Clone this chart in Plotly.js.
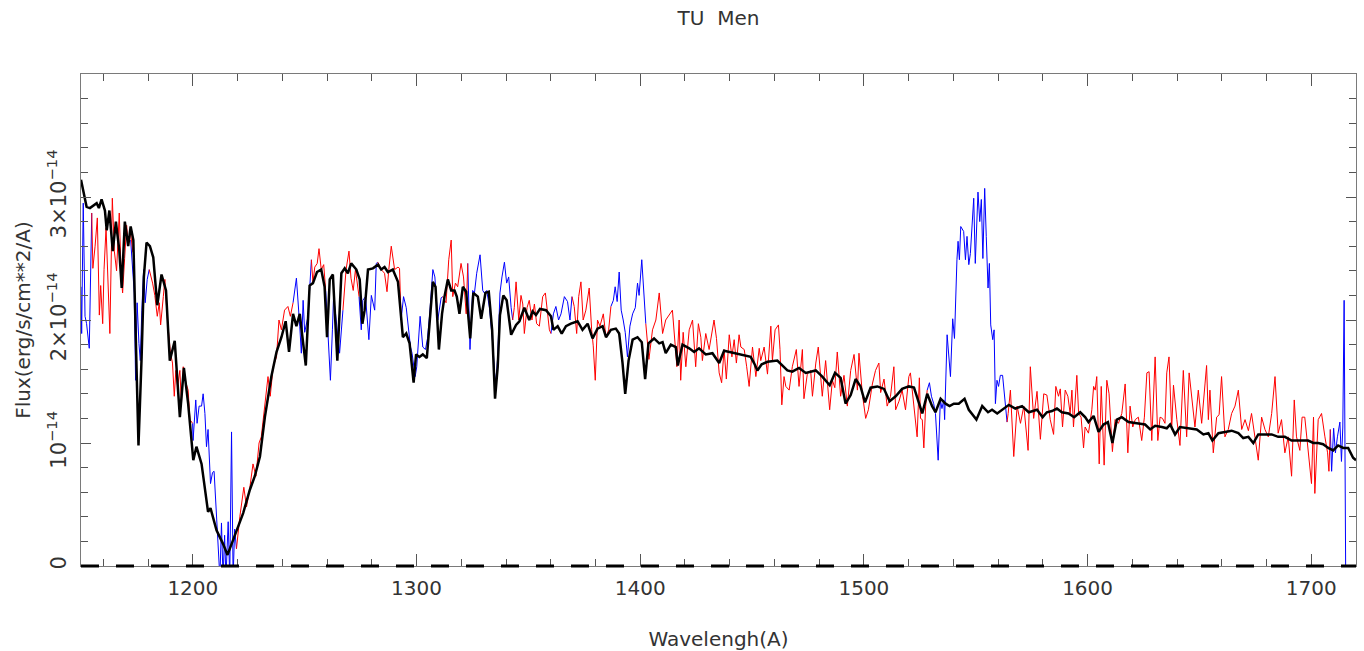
<!DOCTYPE html>
<html>
<head>
<meta charset="utf-8">
<script src="https://cdn.plot.ly/plotly-3.0.1.min.js"></script>
<style>html,body{margin:0;padding:0;background:#fff;}#chart{width:1364px;height:651px;}</style>
</head>
<body>
<div id="chart"></div>
<script>
// Flux values are in units of 1e-14 erg/s/cm^2/A
const chartTitle = 'TU Men';
const xTitle = 'Wavelengh(A)';
const yTitle = 'Flux(erg/s/cm**2/A)';
const xTickVals = [1200, 1300, 1400, 1500, 1600, 1700];
const xTickText = ['1200', '1300', '1400', '1500', '1600', '1700'];
const yTickVals = [0, 1, 2, 3];
const yTickText = ['0', '10<sup>\u221214</sup>', '2\u00d710<sup>\u221214</sup>', '3\u00d710<sup>\u221214</sup>'];

// Red spectrum (segments separated by null)
const redWave = [
 1154.8,1155.3,1156.3,1157.3,1158.2,1158.8,1159.7,1160.3,1161.2,1162.0,1162.9,1164.0,1164.9,1165.9,1167.1,1168.0,1168.6,1169.5,1170.4,1171.1,1172.2,1173.2, null,
 1180.5,1182.0,1183.0,1184.1,1185.0,1185.6,1186.8,1187.5,1188.5,1189.4,1190.0,1190.9,1191.7,1192.4,1193.2,1194.2,1194.9,1195.7,1196.9,1197.9,1198.7,1199.9, null,
 1219.5,1221.0,1222.8,1224.0,1225.5,1226.9,1228.2,1229.6,1230.6,1232.1,1233.6,1234.6,1235.9,1237.4,1238.5,1239.6,1241.0,1242.5,1243.6,1244.8, null,
 1253.0,1253.7,1254.5,1255.6,1256.4,1257.4,1258.5,1259.4, null,
 1267.1,1267.8,1268.5,1269.8,1270.7,1271.7,1272.7,1274.3, null,
 1282.7,1284.2,1285.7,1286.8,1287.6,1288.7,1290.2,1291.7,1292.4,1293.1, null,
 1311.7,1313.2,1314.4,1315.5,1316.2,1317.4,1318.4,1319.9,1321.0,1322.2,1322.9, null,
 1343.0,1343.7,1344.5,1345.7,1346.7,1347.5,1348.2,1349.4,1350.4,1351.6,1352.7,1353.7,1354.9,1356.4,1357.6,1358.6,1359.4,1360.1, null,
 1369.5,1370.5,1371.6,1372.5,1373.5,1374.5,1375.7,1377.2,1378.3,1379.0,1379.9,1380.9,1382.0,1383.5,1384.7,1385.9,1386.9, null,
 1402.5,1403.9,1405.5,1407.0,1408.5,1410.0,1411.4,1413.2,1414.4,1416.4,1417.4,1418.1,1419.2,1420.4,1421.9,1423.4,1424.1,1424.8,1426.0,1427.1,1427.8,1429.3,1430.8,1433.0,1434.1,1435.3,1436.4,1437.5,1438.5,1439.8,
 1441.0,1442.0,1443.0,1444.2,1445.0,1446.5,1447.6,1448.7,1450.2,1451.7,1453.2,1453.9,1455.4,1456.9,1458.4,1459.1,1460.3,1461.8,1462.5,1463.3,1464.3,1465.1,1466.6,1468.0,1469.8,1471.0,1472.5,1473.2,1474.7,1476.2,
 1477.0,1478.5,1479.6,1480.7,1481.4,1482.9,1484.7,1485.9,1487.0,1488.1,1489.6,1491.1,1492.6,1494.1,1495.6,1497.1,1497.8,1499.3,1500.8,1502.0,1503.8,1505.2,1506.7,1507.5,1509.0,1510.4,1511.9,1513.4,1514.2,1515.7,
 1517.1,1518.6,1520.1,1520.8,1521.3,1522.4,1523.8,1524.8,1525.3,1526.1,1526.8,1527.6,1528.3, null,
 1564.0,1564.5,1565.5,1567.0,1568.5,1570.0,1571.5,1573.4,1574.4,1575.9,1577.4,1578.9,1580.4,1581.8,1583.3,1584.8,1585.8,1587.0,1587.8,1588.8,1590.0,1591.2,1592.2,1593.0,1593.7,1595.2,1596.0,1597.1,1598.2,1598.9,
 1600.4,1601.9,1602.7,1603.4,1604.1,1605.2,1606.1,1606.7,1607.4,1608.6,1609.6,1611.1,1612.3,1613.8,1615.3,1616.8,1618.0,1619.0,1620.2,1621.3,1622.7,1624.2,1625.4,1626.5,1627.5,1628.7,1630.2,1631.4,1632.4,1633.5,
 1634.6,1635.4,1636.4,1637.6,1638.4,1639.9,1641.3,1642.8,1644.3,1645.4,1646.6,1648.0,1649.5,1651.0,1652.5,1653.2,1654.0,1654.7,1656.2,1657.7,1658.8,1659.9,1661.4,1662.9,1664.4,1665.9,1667.4,1668.9,1670.4,1671.9,
 1673.3,1674.8,1676.3,1677.8,1679.3,1680.8,1682.3,1683.8,1685.2,1686.7,1688.2,1689.7,1691.2,1692.4,1693.4,1694.9,1695.9,1697.1,1698.6,1700.1,1701.0,1701.6,1703.1,1704.6,1706.1,1707.3,1707.9,1708.5
];
const redFlux = [
 2.87,2.42,2.60,2.83,2.04,2.28,1.97,2.41,2.75,2.30,1.89,2.99,2.56,2.40,2.87,2.35,2.22,2.50,2.77,2.63,2.70,2.55, null,
 2.41,2.30,2.20,2.03,2.14,1.96,2.19,2.33,2.03,1.81,1.73,1.65,1.38,1.59,1.46,1.59,1.32,1.62,1.49,1.43,1.19,1.16, null,
 0.14,0.40,0.64,0.48,0.64,0.83,0.73,1.00,1.05,1.32,1.54,1.38,1.62,1.70,2.00,1.92,2.08,2.11,2.03,2.14, null,
 2.49,2.30,2.43,2.46,2.58,2.41,2.45,2.24, null,
 2.08,2.27,2.41,2.56,2.34,2.24,2.41,2.19, null,
 2.47,2.41,2.38,2.23,2.41,2.60,2.41,2.43,2.42,2.00, null,
 2.19,2.14,2.49,2.65,2.19,2.30,2.27,2.46,2.35,2.05,2.46, null,
 2.00,2.10,2.31,2.00,2.20,2.13,1.89,2.10,2.16,2.00,2.13,1.97,1.95,2.19,2.22,2.07,1.92,1.89, null,
 2.19,2.11,1.89,2.19,2.31,2.00,2.08,2.26,1.92,1.79,1.51,2.00,1.95,2.05,1.86,1.92,2.11, null,
 1.97,1.68,1.92,2.00,2.22,1.89,2.00,2.05,2.08,1.62,2.00,1.51,1.90,1.62,1.92,2.00,1.80,1.62,1.97,1.86,1.67,1.89,1.76,2.00,1.85,1.57,1.49,1.76,1.52,1.88,
 1.70,1.84,1.65,1.88,1.78,1.76,1.62,1.46,1.78,1.54,1.77,1.67,1.78,1.56,1.95,1.67,1.92,1.96,1.76,1.31,1.54,1.46,1.43,1.62,1.76,1.46,1.76,1.36,1.56,1.59,
 1.38,1.65,1.78,1.48,1.38,1.67,1.27,1.51,1.45,1.74,1.38,1.55,1.30,1.59,1.72,1.43,1.73,1.40,1.20,1.27,1.48,1.59,1.65,1.41,1.52,1.30,1.38,1.62,1.27,1.34,
 1.43,1.27,1.54,1.57,1.48,1.31,1.05,1.53,1.20,1.19,0.96,1.30,1.43, null,
 1.17,1.24,1.43,0.89,1.30,1.16,1.30,0.94,1.62,1.20,1.42,1.03,1.40,1.39,1.19,1.07,1.46,1.38,1.44,1.13,1.43,1.38,1.24,1.43,1.13,1.55,1.24,1.21,0.96,1.13,
 1.08,1.27,1.46,1.43,1.54,0.83,1.46,1.21,0.82,1.51,1.40,0.93,1.19,1.16,1.24,1.48,0.92,1.30,1.13,1.19,1.21,1.02,1.21,1.57,1.58,1.02,1.70,1.02,1.21,1.20,
 1.16,1.57,1.70,1.11,1.47,1.19,0.98,1.59,1.05,1.57,1.35,1.13,1.43,1.16,1.48,1.63,1.19,1.43,0.92,1.21,1.23,1.54,1.05,1.11,1.24,1.30,1.43,1.11,1.19,1.10,
 1.24,1.05,0.86,1.21,1.11,1.05,1.24,1.54,1.08,1.19,0.92,1.05,0.73,1.35,1.05,0.94,1.21,1.21,0.92,0.67,1.21,0.59,1.19,1.24,1.05,0.92,0.77,1.11
];

// Blue spectrum (segments separated by null)
const blueWave = [
 1150.0,1150.3,1151.0,1151.8,1152.5,1153.7,1154.8, null,
 1172.2,1173.1,1173.8,1174.4,1175.1,1175.9,1176.5,1177.2,1178.0,1178.7,1179.6,1180.5, null,
 1199.9,1200.1,1201.3,1201.9,1202.8,1203.9,1204.6,1205.4,1206.1,1206.8,1207.9,1208.8,1209.5,1210.3,1211.3,1212.1,1212.8,1213.5,1214.2,1214.8,1215.8,1216.5,1217.3,1218.0,1218.7,1219.5, null,
 1244.8,1246.3,1247.8,1248.5,1249.3,1250.0,1251.5,1253.0, null,
 1259.4,1260.4,1261.5,1262.4,1262.9,1263.8,1265.6,1267.1, null,
 1274.3,1275.3,1276.0,1277.2,1278.7,1279.8,1281.3,1282.0,1282.7, null,
 1293.1,1294.2,1295.4,1296.4,1297.3,1298.0,1298.6,1299.4,1300.1,1300.7,1301.6,1302.8,1304.0,1304.9,1305.8,1307.3,1308.2,1308.8,1309.5,1311.0,1311.7, null,
 1322.9,1323.9,1325.1,1325.9,1326.9,1328.4,1329.6,1330.3,1331.4,1332.6,1334.1,1335.3,1336.3,1337.3,1338.2,1339.3,1340.3,1341.2,1342.3,1343.0, null,
 1360.1,1361.2,1362.3,1363.5,1364.6,1366.1,1367.5,1368.6,1369.5, null,
 1386.9,1388.0,1388.8,1389.7,1390.6,1391.5,1392.4,1393.3,1394.3,1395.4,1396.6,1397.8,1398.8,1399.5,1400.7,1401.6,1402.5, null,
 1528.3,1529.3,1530.2,1531.2,1532.0,1533.2,1534.2,1534.9,1535.7,1536.1,1537.2,1537.9,1538.7,1539.7,1540.5,1541.6,1542.1,1542.7,1543.3,1544.6,1545.4,1546.1,1546.9,1547.6,1548.3,1549.1,1549.8,1551.0,1551.8,1552.5,
 1553.2,1554.0,1554.7,1555.5,1556.1,1556.7,1557.6,1558.2,1558.8,1559.5,1560.2,1561.0,1562.0,1563.2,1564.0, null,
 1708.5,1709.1,1710.0,1710.8,1711.7,1712.8,1713.5,1714.1,1714.7,1715.2,1715.4
];
const blueFlux = [
 2.27,1.89,2.95,2.03,1.97,1.77,2.87, null,
 2.65,2.43,2.22,1.51,2.14,1.81,1.67,2.08,2.41,2.14,2.33,2.41, null,
 1.16,1.02,1.35,1.16,1.30,1.30,1.40,1.24,0.97,1.11,0.67,0.76,0.77,0.51,0.27,-0.10,0.35,-0.10,0.25,-0.10,0.36,-0.10,1.09,-0.10,0.30,0.14, null,
 2.14,2.34,1.95,1.73,2.16,1.90,2.03,2.49, null,
 2.24,1.86,1.51,1.92,2.19,2.05,1.73,2.08, null,
 2.19,1.92,2.16,2.19,1.84,2.20,2.08,2.46,2.47, null,
 2.00,2.19,2.10,1.95,1.78,1.73,1.65,1.54,1.62,1.76,2.03,1.78,1.76,1.85,2.03,2.41,2.35,2.19,2.00,2.18,2.19, null,
 2.46,1.76,2.24,2.22,2.38,2.53,2.24,2.22,2.24,2.10,1.80,1.46,1.70,2.22,2.35,2.47,2.30,2.35,2.10,2.00, null,
 1.89,2.05,2.11,2.00,2.05,2.19,2.15,2.00,2.19, null,
 2.11,2.16,2.27,2.15,2.39,2.08,2.00,1.90,1.70,1.95,2.05,2.10,2.30,2.20,2.49,2.20,1.97, null,
 1.43,1.49,1.38,1.32,1.24,0.86,1.35,1.28,1.35,1.19,1.88,1.70,1.54,2.01,1.85,2.49,2.64,2.49,2.76,2.72,2.49,2.68,2.45,2.54,2.77,2.99,2.46,3.04,2.80,2.98,
 2.50,3.07,2.68,2.26,2.46,1.96,1.84,1.92,1.32,1.51,1.46,1.55,1.55,1.32,1.17, null,
 1.11,0.77,1.12,0.92,1.05,1.17,0.85,1.13,2.16,0.46,-0.10
];

// Black model / smoothed spectrum
const modelWave = [
 1150.0,1151.0,1152.5,1154.0,1155.5,1157.0,1158.0,1159.2,1160.7,1161.5,1162.7,1164.2,1165.6,1167.1,1168.2,1169.6,1171.1,1172.2,1173.4,1174.6,
 1175.7,1177.1,1178.1,1179.3,1180.8,1182.3,1184.1,1186.0,1188.0,1189.7,1191.9,1194.2,1196.0,1197.9,1200.2,1201.6,1203.9,1206.8,1207.9,1210.6,
 1213.5,1215.5,1218.0,1222.5,1225.5,1227.7,1230.0,1232.2,1235.1,1237.4,1239.6,1241.5,1243.0,1244.8,1246.3,1247.8,1249.0,1250.5,1252.2,1253.7,
 1255.5,1257.4,1258.9,1260.0,1261.2,1262.6,1264.6,1266.4,1267.9,1269.3,1270.8,1273.1,1274.6,1275.8,1276.8,1278.3,1280.5,1282.8,1284.2,1285.7,
 1287.2,1289.4,1291.7,1293.9,1295.4,1296.9,1298.7,1299.8,1301.3,1302.8,1304.6,1306.1,1307.3,1308.5,1310.0,1311.4,1312.5,1314.0,1315.5,1317.0,
 1318.0,1319.2,1320.7,1322.2,1324.0,1325.4,1327.4,1328.9,1330.8,1332.3,1333.8,1335.1,1336.3,1337.3,1338.8,1340.3,1342.3,1344.5,1346.0,1348.2,
 1350.4,1351.9,1353.4,1355.2,1357.9,1360.1,1361.2,1363.1,1364.9,1366.8,1369.0,1372.0,1374.2,1376.5,1378.7,1380.9,1383.2,1384.7,1386.9,1389.1,
 1390.6,1392.1,1393.3,1394.8,1396.6,1398.8,1400.7,1402.2,1403.7,1406.2,1408.5,1410.0,1411.4,1413.7,1415.9,1416.8,1418.9,1421.9,1424.1,1426.3,
 1429.3,1432.3,1435.3,1437.5,1440.0,1444.2,1447.2,1449.4,1450.9,1452.4,1454.3,1456.9,1461.3,1463.6,1465.8,1468.0,1471.0,1474.0,1478.5,1481.4,
 1484.7,1487.1,1489.6,1491.8,1494.1,1496.3,1498.5,1500.5,1503.0,1506.0,1509.0,1511.5,1514.2,1517.1,1520.1,1522.4,1524.3,1526.1,1528.3,1530.5,
 1532.0,1534.3,1536.5,1538.3,1540.2,1542.4,1545.0,1546.9,1550.3,1552.9,1555.5,1557.3,1559.6,1561.8,1564.8,1567.7,1570.7,1573.7,1577.4,1579.9,
 1581.8,1584.1,1586.3,1588.5,1591.5,1594.0,1596.7,1598.9,1600.4,1602.7,1604.9,1607.1,1609.1,1611.1,1613.1,1615.3,1618.3,1622.0,1625.7,1628.0,
 1630.2,1633.2,1635.4,1636.9,1639.1,1641.3,1645.1,1648.8,1651.8,1654.0,1655.8,1658.5,1661.4,1664.4,1667.4,1669.6,1671.9,1674.1,1676.3,1682.3,
 1685.2,1688.2,1691.2,1695.7,1698.6,1700.9,1703.1,1705.3,1707.6,1709.8,1712.0,1714.3,1716.5,1718.7,1720.0
];
const modelFlux = [
 3.14,3.06,2.92,2.91,2.93,2.95,2.91,2.98,2.89,2.73,2.89,2.56,2.80,2.57,2.26,2.80,2.60,2.76,2.65,1.86,
 0.98,1.70,2.35,2.63,2.60,2.51,2.12,2.37,2.24,1.67,1.83,1.21,1.61,1.32,0.86,0.97,0.83,0.44,0.47,0.29,
 0.18,0.09,0.21,0.43,0.62,0.73,0.89,1.21,1.54,1.74,1.86,1.99,1.74,2.05,1.95,2.05,1.86,1.63,2.28,2.30,
 2.39,2.41,2.27,1.86,2.33,2.37,1.67,2.38,2.42,2.38,2.46,2.41,2.33,1.97,2.08,2.41,2.42,2.45,2.41,2.43,
 2.39,2.41,2.31,1.86,1.89,1.81,1.49,1.72,1.70,1.72,1.69,2.03,2.31,2.27,1.76,2.05,2.19,2.33,2.24,2.24,
 2.19,2.05,2.27,2.23,1.85,2.22,2.19,2.01,2.22,2.23,1.92,1.36,1.62,2.04,2.20,2.16,1.88,1.96,1.99,2.10,
 2.00,2.07,2.04,2.09,2.08,2.03,1.92,1.95,1.89,1.95,1.97,1.99,1.92,1.97,1.85,1.93,1.95,1.86,1.92,1.93,
 1.89,1.65,1.40,1.67,1.84,1.86,1.82,1.52,1.81,1.85,1.81,1.82,1.73,1.80,1.78,1.63,1.80,1.77,1.74,1.77,
 1.72,1.73,1.65,1.75,1.74,1.72,1.71,1.70,1.65,1.59,1.64,1.66,1.67,1.63,1.59,1.58,1.61,1.57,1.59,1.54,
 1.47,1.57,1.53,1.32,1.39,1.52,1.46,1.33,1.45,1.46,1.44,1.34,1.38,1.44,1.46,1.45,1.35,1.24,1.40,1.30,
 1.25,1.36,1.32,1.30,1.32,1.32,1.36,1.27,1.19,1.30,1.25,1.27,1.24,1.27,1.31,1.28,1.30,1.25,1.27,1.21,
 1.25,1.26,1.28,1.25,1.24,1.21,1.25,1.21,1.17,1.22,1.09,1.15,1.17,1.00,1.19,1.21,1.17,1.16,1.15,1.11,
 1.14,1.13,1.12,1.15,1.07,1.13,1.12,1.11,1.07,1.08,1.02,1.08,1.09,1.10,1.08,1.04,1.05,1.00,1.07,1.07,
 1.05,1.05,1.02,1.02,1.02,1.00,1.00,0.99,0.96,0.94,0.98,0.96,0.96,0.88,0.86
];

const traces = [
  {x: blueWave, y: blueFlux, type: 'scatter', mode: 'lines', connectgaps: false,
   line: {color: '#0000ff', width: 1}, hoverinfo: 'skip'},
  {x: redWave, y: redFlux, type: 'scatter', mode: 'lines', connectgaps: false,
   line: {color: '#ff0000', width: 1}, hoverinfo: 'skip'},
  {x: modelWave, y: modelFlux, type: 'scatter', mode: 'lines',
   line: {color: '#000000', width: 2.5}, hoverinfo: 'skip'}
];

const axisCommon = {
  showgrid: false, zeroline: false, showline: true, linecolor: '#7a7a7a', linewidth: 1,
  mirror: 'allticks', ticks: 'inside', tickcolor: '#555', tickwidth: 1
};

const layout = {
  width: 1364, height: 651,
  margin: {l: 81, r: 8, t: 74, b: 85, pad: 0},
  paper_bgcolor: '#ffffff', plot_bgcolor: '#ffffff',
  showlegend: false,
  font: {family: 'DejaVu Sans, sans-serif', size: 20, color: '#333333'},
  title: {text: 'TU&nbsp; Men', x: 0.5, xref: 'paper', xanchor: 'center',
          y: 1 - 18 / 651, yref: 'container', yanchor: 'middle',
          font: {size: 20, color: '#333333'}},
  xaxis: Object.assign({}, axisCommon, {
    range: [1150, 1720], tickmode: 'array', tickvals: xTickVals, ticktext: xTickText,
    ticklen: 12, ticklabelstandoff: 4, tickfont: {size: 20},
    minor: {dtick: 20, tick0: 1200, ticks: 'inside', ticklen: 7, tickcolor: '#555', tickwidth: 1},
    title: {text: xTitle, standoff: 34, font: {size: 20}},
    automargin: false
  }),
  yaxis: Object.assign({}, axisCommon, {
    range: [0, 4], tickmode: 'array', tickvals: yTickVals, ticktext: yTickText,
    ticklen: 10, tickangle: -90, ticklabelstandoff: 6, tickfont: {size: 21},
    minor: {dtick: 0.2, tick0: 0, ticks: 'inside', ticklen: 7, tickcolor: '#555', tickwidth: 1},
    title: {text: yTitle, standoff: 6, font: {size: 20}},
    automargin: false
  }),
  shapes: [
    {type: 'line', xref: 'paper', yref: 'paper', x0: 0, x1: 1, y0: 0, y1: 0,
     line: {color: '#000000', width: 3, dash: '18px,17px'}, layer: 'above'}
  ]
};

Plotly.newPlot('chart', traces, layout, {displayModeBar: false, staticPlot: true});
</script>
</body>
</html>
